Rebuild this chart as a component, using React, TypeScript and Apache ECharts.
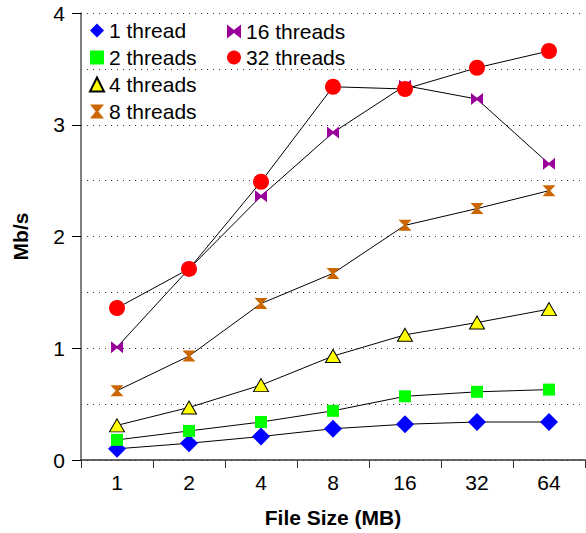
import React, { useEffect, useRef } from "react";
import * as echarts from "echarts";

const categories = ["1", "2", "4", "8", "16", "32", "64"];
const yTicks = [0, 1, 2, 3, 4];

const thread1 = [0.1, 0.15, 0.21, 0.28, 0.32, 0.34, 0.34];
const thread2 = [0.18, 0.26, 0.34, 0.44, 0.57, 0.61, 0.63];
const thread4 = [0.31, 0.47, 0.67, 0.93, 1.12, 1.23, 1.35];
const thread8 = [0.62, 0.93, 1.4, 1.67, 2.1, 2.25, 2.41];
const thread16 = [1.01, 1.71, 2.36, 2.93, 3.35, 3.23, 2.65];
const thread32 = [1.36, 1.71, 2.49, 3.34, 3.32, 3.51, 3.66];

const HOURGLASS = "path://M0 0 L10 0 L6 5 L10 10 L0 10 L4 5 Z";
const BOWTIE = "path://M0 0 L5 4 L10 0 L10 10 L5 6 L0 10 Z";

const FONT = "'Liberation Sans', Arial, sans-serif";

export default function App() {
  const ref = useRef<HTMLDivElement>(null);
  useEffect(() => {
    document.body.style.margin = "0";
    const chart = echarts.init(ref.current!, null, { renderer: "svg" });
    const mk = (
      name: string,
      data: number[],
      symbol: string,
      size: number | number[],
      color: string,
      border?: string
    ) => ({
      name,
      type: "line",
      data,
      symbol,
      symbolSize: size,
      showAllSymbol: true,
      lineStyle: { color: "#000", width: 1 },
      itemStyle: border
        ? { color, borderColor: border, borderWidth: 1 }
        : { color, borderWidth: 0 },
      emphasis: { disabled: true },
    });
    const legendText = { fontSize: 21, fontFamily: FONT, color: "#000" };
    chart.setOption({
      animation: false,
      textStyle: { fontFamily: FONT },
      grid: { left: 81, top: 13, bottom: 72, right: 1 },
      legend: [
        {
          orient: "vertical",
          left: 84,
          top: 15,
          itemWidth: 14,
          itemHeight: 14,
          itemGap: 6,
          textStyle: legendText,
          data: [
            { name: "1 thread", icon: "diamond" },
            { name: "2 threads", icon: "rect" },
            { name: "4 threads", icon: "triangle" },
            { name: "8 threads", icon: HOURGLASS },
          ],
        },
        {
          orient: "vertical",
          left: 222,
          top: 16,
          itemWidth: 14,
          itemHeight: 14,
          itemGap: 5,
          textStyle: legendText,
          data: [
            { name: "16 threads", icon: BOWTIE },
            { name: "32 threads", icon: "circle" },
          ],
        },
      ],
      xAxis: {
        type: "category",
        data: categories,
        boundaryGap: true,
        name: "File Size (MB)",
        nameLocation: "middle",
        nameGap: 47,
        nameTextStyle: { fontSize: 21, fontWeight: "bold", color: "#000", fontFamily: FONT },
        axisLine: { lineStyle: { color: "#333", width: 1.5 } },
        axisTick: { show: true, length: 8, lineStyle: { color: "#333" } },
        axisLabel: { fontSize: 21, color: "#000", margin: 12, fontFamily: FONT },
        splitLine: { show: false },
      },
      yAxis: {
        type: "value",
        min: yTicks[0],
        max: yTicks[yTicks.length - 1],
        interval: 1,
        name: "Mb/s",
        nameLocation: "middle",
        nameGap: 50,
        nameTextStyle: { fontSize: 21, fontWeight: "bold", color: "#000", fontFamily: FONT },
        axisLine: { show: true, lineStyle: { color: "#555", width: 1.5 } },
        axisTick: { show: true, length: 9, lineStyle: { color: "#000" } },
        axisLabel: { fontSize: 21, color: "#000", margin: 16, fontFamily: FONT },
        splitLine: { show: true, lineStyle: { color: "#333", type: [1, 5], width: 1 } },
        minorTick: { show: false, splitNumber: 2 },
        minorSplitLine: { show: true, lineStyle: { color: "#333", type: [1, 5], width: 1 } },
      },
      series: [
        mk("1 thread", thread1, "diamond", 18, "#0000ff"),
        mk("2 threads", thread2, "rect", 12, "#00ff00"),
        mk("4 threads", thread4, "triangle", [15, 13], "#ffff00", "#000"),
        mk("8 threads", thread8, HOURGLASS, [13, 11], "#cc6600"),
        mk("16 threads", thread16, BOWTIE, [12, 12], "#990099"),
        mk("32 threads", thread32, "circle", 16, "#ff0000"),
      ],
    });
    return () => chart.dispose();
  }, []);
  return <div ref={ref} style={{ width: 586, height: 533 }} />;
}
